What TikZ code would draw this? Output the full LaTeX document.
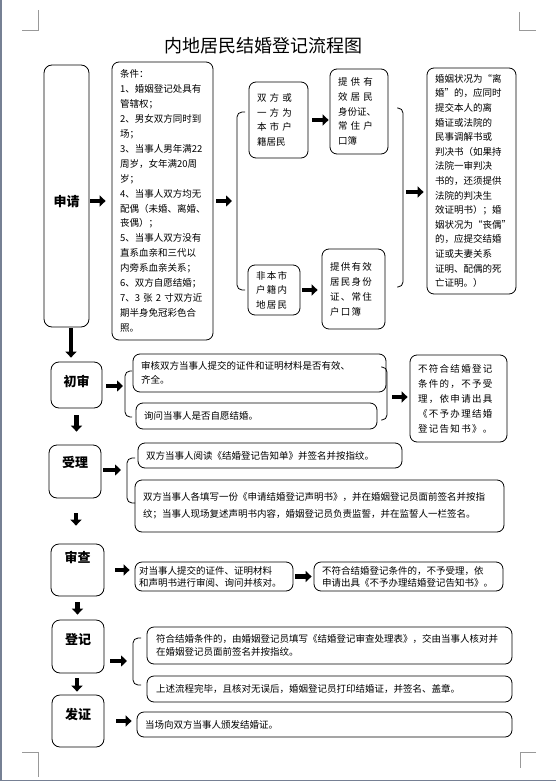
\documentclass[tikz,border=0pt]{standalone}
\usepackage{xcolor}
\usepackage{fontspec}
\usepackage{tikz}
\usetikzlibrary{arrows.meta,positioning}

\setmainfont{Noto Sans CJK SC}
\newfontfamily\wideA{Noto Sans CJK SC}[LetterSpace=33]
\newfontfamily\wideB{Noto Sans CJK SC}[LetterSpace=14]
\definecolor{pageedge}{RGB}{118,128,148}

\begin{document}
\begin{tikzpicture}[
    x=1pt, y=-1pt,
    stagebox/.style={rectangle, rounded corners=8pt, draw=black, line width=0.8pt,
        align=center, font=\fontsize{13}{15}\selectfont\bfseries},
    infobox/.style={rectangle, rounded corners=7pt, draw=black, line width=0.8pt,
        align=left, inner xsep=8pt, inner ysep=2pt, font=\fontsize{9.5}{14.6}\selectfont},
    fatarrow/.style={-{Triangle[length=6pt, width=11pt]}, line width=4.5pt},
    bracket/.style={draw, rounded corners=5pt, line width=0.8pt},
    cornermark/.style={draw=black!40, line width=0.6pt}
]
\useasboundingbox (0,0) rectangle (556,784);

% page edge and margin marks
\draw[pageedge, line width=1.5pt] (1,0) -- (1,780.5) -- (556,780.5);
\draw[cornermark] (22,30) -- (38,30) -- (38,10);
\draw[cornermark] (519,12) -- (519,30) -- (536,30);
\draw[cornermark] (22,752) -- (38,752) -- (38,777);
\draw[cornermark] (536,752) -- (520,752) -- (520,768);

\node[font=\fontsize{18}{20}\selectfont] (title) at (263,46) {内地居民结婚登记流程图};

% left column
\node[stagebox, minimum width=45pt, minimum height=262pt, text height=23pt] (shenqing) at (66.5,196) {申请};
\node[stagebox, minimum width=51pt, minimum height=46pt, text depth=8pt] (chushen) at (76.5,385) {初审};
\node[stagebox, minimum width=52pt, minimum height=53pt, text depth=19pt] (shouli) at (75,471.5) {受理};
\node[stagebox, minimum width=53pt, minimum height=52pt, text depth=26pt] (shencha) at (77.5,570) {审查};
\node[stagebox, minimum width=52pt, minimum height=53pt, text depth=15pt] (dengji) at (78,646.5) {登记};
\node[stagebox, minimum width=52pt, minimum height=52pt, text depth=14pt] (fazheng) at (78,721) {发证};

% apply
\node[infobox, text width=85pt, minimum height=278pt, font=\fontsize{9.5}{14.9}\selectfont] (tiaojian) at (162.5,201) {条件：\\
1、婚姻登记处具有\\管辖权；\\2、男女双方同时到\\场；\\3、当事人男年满22\\周岁，女年满20周\\岁；\\
4、当事人双方均无\\配偶（未婚、离婚、\\丧偶）；\\5、当事人双方没有\\直系血亲和三代以\\内旁系血亲关系；\\
6、双方自愿结婚；\\7、3 张 2 寸双方近\\期半身免冠彩色合\\照。};
\node[infobox, text width=43pt, minimum height=76pt] (bendi) at (278.5,120) {{\wideA 双方或}\\{\wideA 一方为}\\{\wideA 本市户}\\籍居民};
\node[infobox, text width=42pt, minimum height=85pt] (tigong1) at (359,111.5) {{\wideA 提供有}\\{\wideA 效居民}\\身份证、\\{\wideA 常住户}\\口簿};
\node[infobox, text width=36pt, minimum height=50pt, font=\fontsize{9.5}{14.5}\wideB] (waidi) at (274,290) {非本市\\户籍内\\地居民};
\node[infobox, text width=47pt, minimum height=80pt, font=\fontsize{9.5}{15}\wideB] (tigong2) at (353.5,289) {提供有效\\居民身份\\证、常住\\户口簿};
\node[infobox, text width=73pt, minimum height=226pt] (lihun) at (471.5,181) {婚姻状况为“离\\婚”的，应同时\\提交本人的离\\婚证或法院的\\民事调解书或\\
判决书（如果持\\法院一审判决\\书的，还须提供\\法院的判决生\\效证明书）；婚\\姻状况为“丧偶”\\的，应提交结婚\\
证或夫妻关系\\证明、配偶的死\\亡证明。）};

% first check
\node[infobox, text width=237pt, minimum height=38pt] (shenhe) at (259.5,373) {审核双方当事人提交的证件和证明材料是否有效、\\齐全。};
\node[infobox, text width=225pt, minimum height=26pt] (xunwen) at (256.5,416) {询问当事人是否自愿结婚。};
\node[infobox, text width=81pt, minimum height=87pt, font=\fontsize{9.5}{15}\wideB] (bufu1) at (458.5,398.5) {不符合结婚登记\\条件的，不予受\\理，依申请出具\\《不予办理结婚\\登记告知书》。};

% acceptance
\node[infobox, text width=248pt, minimum height=25pt] (yuedu) at (270,455.5) {双方当事人阅读《结婚登记告知单》并签名并按指纹。};
\node[infobox, text width=353pt, minimum height=52pt, font=\fontsize{9.5}{17}\selectfont] (tianxie) at (319.5,506) {双方当事人各填写一份《申请结婚登记声明书》，并在婚姻登记员面前签名并按指\\纹；当事人现场复述声明书内容，婚姻登记员负责监誓，并在监誓人一栏签名。};

% review
\node[infobox, inner xsep=4pt, text width=150pt, minimum height=29pt, font=\fontsize{9.5}{12}\selectfont] (shenyue) at (214,576.5) {对当事人提交的证件、证明材料\\和声明书进行审阅、询问并核对。};
\node[infobox, text width=173pt, minimum height=29pt, font=\fontsize{9.5}{12}\selectfont] (bufu2) at (408.5,576.5) {不符合结婚登记条件的，不予受理，依\\申请出具《不予办理结婚登记告知书》。};

% registration
\node[infobox, inner xsep=9pt, text width=347pt, minimum height=37pt, font=\fontsize{9.5}{12.5}\selectfont] (tianbiao) at (329.5,645.5) {符合结婚条件的，由婚姻登记员填写《结婚登记审查处理表》，交由当事人核对并\\在婚姻登记员面前签名并按指纹。};
\node[infobox, inner xsep=9pt, text width=347pt, minimum height=26pt] (daying) at (329.5,689) {上述流程完毕，且核对无误后，婚姻登记员打印结婚证，并签名、盖章。};

% certificate
\node[infobox, text width=359pt, minimum height=25pt] (banfa) at (324.5,724.5) {当场向双方当事人颁发结婚证。};

% brackets
\coordinate (brA) at (237,201);
\coordinate (brB) at (403,192);
\coordinate (brC) at (125,386);
\coordinate (brD) at (387,397);
\coordinate (brE) at (127,470);
\coordinate (brF) at (133,661);
\draw[bracket] (245,112) -| (237,290) -- (245,290);
\draw[bracket] (397,108) -| (403,287) -- (397,287);
\draw[bracket] (132,371) -| (125,417) -- (132,417);
\draw[bracket] (381,367) -| (387,420) -- (381,420);
\draw[bracket] (135,458) -| (127,503) -- (135,503);
\draw[bracket] (141,638) -| (133,685) -- (141,685);

% arrows
\draw[fatarrow, shorten <=1pt, shorten >=6pt] (shenqing.east |- tiaojian.west) -- (tiaojian.west);
\draw[fatarrow, shorten <=3pt, shorten >=5pt] (tiaojian.east |- brA) -- (brA);
\draw[fatarrow, shorten <=4pt, shorten >=1pt] (bendi.east) -- (bendi.east -| tigong1.west);
\draw[fatarrow, shorten <=2pt, shorten >=4pt] (waidi.east) -- (waidi.east -| tigong2.west);
\draw[fatarrow, shorten <=3pt, shorten >=3pt] (brB) -- (brB -| lihun.west);
\draw[fatarrow, shorten <=4pt, shorten >=2pt] (chushen.east |- brC) -- (brC);
\draw[fatarrow, shorten <=5pt, shorten >=2pt] (brD) -- (brD -| bufu1.west);
\draw[fatarrow, shorten <=2pt, shorten >=6pt] (shouli.east |- brE) -- (brE);
\draw[fatarrow, shorten <=11pt, shorten >=5pt] (shencha.east) -- (shencha.east -| shenyue.west);
\draw[fatarrow, shorten <=2pt, shorten >=2pt] (shenyue) -- (bufu2);
\draw[fatarrow, shorten <=6pt, shorten >=6pt] (dengji.east |- brF) -- (brF);
\draw[fatarrow, shorten <=12pt, shorten >=5pt] (fazheng.east) -- (fazheng.east -| banfa.west);

\draw[fatarrow, shorten <=1pt, shorten >=4pt] ([xshift=4.5pt]shenqing.south) -- ([xshift=4.5pt]shenqing.south |- chushen.north);
\draw[fatarrow, shorten <=7pt, shorten >=13pt] (chushen.south) -- (chushen.south |- shouli.north);
\draw[fatarrow, shorten <=15pt, shorten >=18pt] ([xshift=1pt]shouli.south) -- ([xshift=1pt]shouli.south |- shencha.north);
\draw[fatarrow, shorten <=6pt, shorten >=5pt] (shencha.south) -- (shencha.south |- dengji.north);
\draw[fatarrow, shorten <=5pt, shorten >=3pt] ([xshift=-1pt]dengji.south) -- ([xshift=-1pt]dengji.south |- fazheng.north);
\end{tikzpicture}
\end{document}
